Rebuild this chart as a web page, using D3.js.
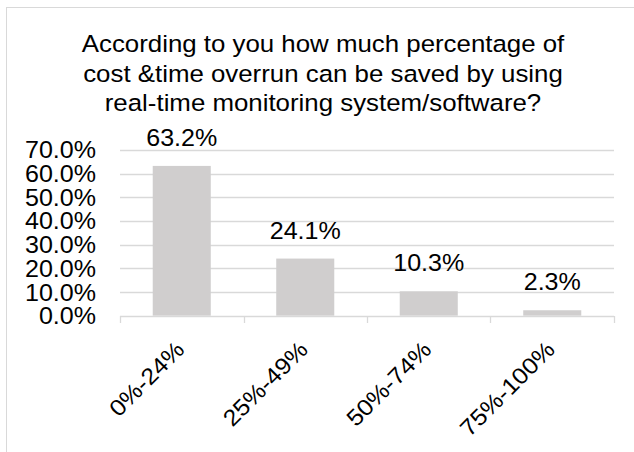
<!DOCTYPE html>
<html>
<head>
<meta charset="utf-8">
<script src="https://cdn.jsdelivr.net/npm/d3@7"></script>
<style>
  body { margin: 0; background: #fff; }
  svg text { font-family: "Liberation Sans", Arial, sans-serif; fill: #000; }
</style>
</head>
<body>
<div id="chart"></div>
<script>
const categories = ['0%-24%', '25%-49%', '50%-74%', '75%-100%'];
const values = [0.632, 0.241, 0.103, 0.023];
const yTicks = [0, 0.1, 0.2, 0.3, 0.4, 0.5, 0.6, 0.7];
const titleLines = [
  'According to you how much percentage of',
  'cost &time overrun can be saved by using',
  'real-time monitoring system/software?'
];

const width = 634, height = 452;
const fontSize = 23;
const sx = 1.09; // the reference text is a bit wide for its height

const svg = d3.select('#chart').append('svg')
  .attr('width', width)
  .attr('height', height);

// chart frame (right and bottom edges run off the picture)
svg.append('rect')
  .attr('x', 6.5).attr('y', 7.5)
  .attr('width', 700).attr('height', 500)
  .attr('fill', 'none')
  .attr('stroke', '#d9d9d9');

const x = d3.scaleBand()
  .domain(categories)
  .range([120, 614])
  .paddingInner(0.53)
  .paddingOuter(0.265);

const y = d3.scaleLinear()
  .domain([0, 0.7])
  .range([315.7, 149.8]);

// title
svg.append('g').selectAll('text')
  .data(titleLines)
  .join('text')
  .attr('transform', (d, i) => `translate(323,${52 + i * 29.6}) scale(1.1,1)`)
  .attr('text-anchor', 'middle')
  .style('font-size', '23.5px')
  .text(d => d);

// gridlines
svg.append('g').selectAll('line')
  .data(yTicks.slice(1))
  .join('line')
  .attr('x1', 120).attr('x2', 614)
  .attr('y1', d => Math.round(y(d)) + 0.5)
  .attr('y2', d => Math.round(y(d)) + 0.5)
  .attr('stroke', '#d9d9d9')
  .attr('stroke-width', 1.3);

// y axis labels
const yAxis = svg.append('g')
  .attr('transform', 'translate(96,0)')
  .call(d3.axisLeft(y).tickValues(yTicks).tickFormat(d3.format('.1%')).tickSize(0).tickPadding(0));
yAxis.select('.domain').remove();
yAxis.selectAll('text')
  .attr('x', 0)
  .attr('transform', `scale(${sx},1)`)
  .style('font-size', fontSize + 'px')
  .attr('dy', '0.35em');

// bars
svg.append('g').selectAll('rect')
  .data(values)
  .join('rect')
  .attr('x', (d, i) => x(categories[i]))
  .attr('y', d => y(d))
  .attr('width', x.bandwidth())
  .attr('height', d => y(0) - y(d))
  .attr('fill', '#d0cece');

// x axis
const bounds = categories.map(c => x(c) - x.step() * x.paddingInner() / 2).concat([614]);
const xAxis = svg.append('g');
xAxis.append('line')
  .attr('x1', 120).attr('x2', 614)
  .attr('y1', 316.5).attr('y2', 316.5)
  .attr('stroke', '#d9d9d9')
  .attr('stroke-width', 1.3);
xAxis.selectAll('line.tick')
  .data(bounds)
  .join('line')
  .attr('class', 'tick')
  .attr('x1', d => Math.round(d) + 0.5).attr('x2', d => Math.round(d) + 0.5)
  .attr('y1', 316).attr('y2', 323)
  .attr('stroke', '#d9d9d9')
  .attr('stroke-width', 1.3);

xAxis.selectAll('text')
  .data(categories)
  .join('text')
  .attr('transform', d => `translate(${x(d) + x.bandwidth() / 2 + 4},351) rotate(-45) scale(${sx},1)`)
  .attr('text-anchor', 'end')
  .style('font-size', fontSize + 'px')
  .text(d => d);

// data labels
svg.append('g').selectAll('text')
  .data(values)
  .join('text')
  .attr('transform', (d, i) => `translate(${x(categories[i]) + x.bandwidth() / 2},${y(d) - 20}) scale(${sx},1)`)
  .attr('text-anchor', 'middle')
  .style('font-size', fontSize + 'px')
  .text(d => d3.format('.1%')(d));
</script>
</body>
</html>
